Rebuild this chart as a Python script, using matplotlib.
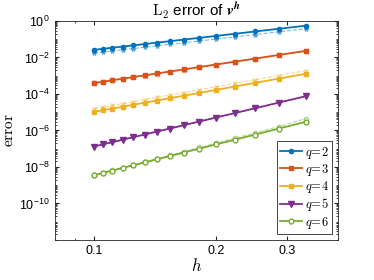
import matplotlib
matplotlib.use("Agg")
import matplotlib.pyplot as plt
from matplotlib.ticker import LogLocator, FixedLocator, NullFormatter

plt.rcParams["font.family"] = ["Liberation Sans", "DejaVu Sans"]
plt.rcParams["mathtext.fontset"] = "cm"

# mesh sizes h = 1/N, N = 10, 9.5, ..., 3
h = [0.1, 0.10526, 0.11111, 0.11765, 0.125, 0.13333, 0.14286, 0.15385,
     0.16667, 0.18182, 0.2, 0.22222, 0.25, 0.28571, 0.33333]

# solid lines
err_q2 = [2.63e-2, 2.99e-2, 3.43e-2, 3.97e-2, 4.63e-2, 5.45e-2, 6.49e-2, 7.82e-2,
          9.58e-2, 1.19e-1, 1.52e-1, 1.98e-1, 2.67e-1, 3.74e-1, 5.53e-1]
err_q3 = [3.98e-4, 4.73e-4, 5.69e-4, 6.89e-4, 8.45e-4, 1.05e-3, 1.33e-3, 1.70e-3,
          2.23e-3, 2.99e-3, 4.13e-3, 5.89e-3, 8.77e-3, 1.38e-2, 2.32e-2]
err_q4 = [1.05e-5, 1.29e-5, 1.60e-5, 2.01e-5, 2.56e-5, 3.31e-5, 4.36e-5, 5.87e-5,
          8.07e-5, 1.14e-4, 1.67e-4, 2.55e-4, 4.09e-4, 6.98e-4, 1.29e-3]
err_q5 = [1.32e-7, 1.73e-7, 2.30e-7, 3.11e-7, 4.28e-7, 6.01e-7, 8.67e-7, 1.28e-6,
          1.95e-6, 3.10e-6, 5.12e-6, 8.93e-6, 1.66e-5, 3.37e-5, 7.6e-5]
err_q6 = [3.55e-9, 4.73e-9, 6.40e-9, 8.81e-9, 1.24e-8, 1.77e-8, 2.61e-8, 3.96e-8,
          6.19e-8, 1.01e-7, 1.72e-7, 3.10e-7, 6.0e-7, 1.27e-6, 3.0e-6]

# dashed lines
ref_q2 = [1.74e-2, 1.98e-2, 2.28e-2, 2.64e-2, 3.08e-2, 3.63e-2, 4.33e-2, 5.24e-2,
          6.43e-2, 8.03e-2, 1.025e-1, 1.34e-1, 1.815e-1, 2.55e-1, 3.79e-1]
ref_q3 = [3.88e-4, 4.60e-4, 5.53e-4, 6.70e-4, 8.22e-4, 1.02e-3, 1.29e-3, 1.65e-3,
          2.17e-3, 2.91e-3, 4.02e-3, 5.73e-3, 8.53e-3, 1.34e-2, 2.26e-2]
ref_q4 = [1.55e-5, 1.91e-5, 2.37e-5, 2.97e-5, 3.79e-5, 4.90e-5, 6.45e-5, 8.69e-5,
          1.19e-4, 1.69e-4, 2.47e-4, 3.77e-4, 6.05e-4, 1.03e-3, 1.91e-3]
ref_q5 = [1.30e-7, 1.70e-7, 2.26e-7, 3.06e-7, 4.21e-7, 5.92e-7, 8.55e-7, 1.26e-6,
          1.92e-6, 3.06e-6, 5.05e-6, 8.80e-6, 1.64e-5, 3.33e-5, 7.5e-5]
ref_q6 = [3.6e-9, 4.8e-9, 6.6e-9, 9.2e-9, 1.31e-8, 1.9e-8, 2.85e-8, 4.4e-8,
          7.0e-8, 1.17e-7, 2.03e-7, 3.75e-7, 7.5e-7, 1.65e-6, 4.5e-6]

labels = [r"$q\!=\!2$", r"$q\!=\!3$", r"$q\!=\!4$", r"$q\!=\!5$", r"$q\!=\!6$"]

COLORS = ["#0072BD", "#D95319", "#EDB120", "#7E2F8E", "#77AC30"]
solid_markers = [dict(marker="o", ms=3.0, mfc=None),
                 dict(marker="s", ms=3.2, mfc=None),
                 dict(marker="s", ms=2.3, mfc=None),
                 dict(marker="v", ms=4.5, mfc=None),
                 dict(marker="o", ms=3.5, mfc="white")]
dash_markers = ["*", "s", "x", "v", "o"]

fig = plt.figure(figsize=(3.74, 2.80), dpi=100)
ax = fig.add_axes([0.146, 0.143, 0.758, 0.782])

solid = [err_q2, err_q3, err_q4, err_q5, err_q6]
dashed = [ref_q2, ref_q3, ref_q4, ref_q5, ref_q6]

for i in range(5):
    ax.plot(h, dashed[i], linestyle="--", color=COLORS[i], alpha=0.5, lw=0.8,
            marker=dash_markers[i], ms=3.2,
            mfc="none" if dash_markers[i] in "so" else COLORS[i])
for i in range(5):
    m = solid_markers[i]
    ax.plot(h, solid[i], "-", color=COLORS[i], lw=1.3, marker=m["marker"],
            ms=m["ms"], mfc=m["mfc"] if m["mfc"] else COLORS[i],
            mec=COLORS[i], mew=1.0, label=labels[i])

ax.set_xscale("log")
ax.set_yscale("log")
ax.set_xlim(0.08, 0.4)
ax.set_ylim(1e-12, 1)

ax.xaxis.set_major_locator(FixedLocator([0.1, 0.2, 0.3]))
ax.set_xticklabels(["0.1", "0.2", "0.3"])
ax.xaxis.set_minor_locator(FixedLocator([0.08, 0.09, 0.4]))
ax.xaxis.set_minor_formatter(NullFormatter())

ax.yaxis.set_major_locator(FixedLocator([1e-10, 1e-8, 1e-6, 1e-4, 1e-2, 1]))
ax.yaxis.set_minor_locator(LogLocator(base=10, subs=range(1, 10), numticks=30))
ax.yaxis.set_minor_formatter(NullFormatter())

ax.tick_params(which="both", direction="in", top=True, right=True,
               labelsize=9, color="#262626")
ax.tick_params(which="major", length=3)
ax.tick_params(which="minor", length=1.5)
for s in ax.spines.values():
    s.set_linewidth(0.6)
    s.set_color("#262626")

ax.set_title(r"$\mathrm{L}_2$ error of $\boldsymbol{v}^{\boldsymbol{h}}$",
             fontsize=11, pad=3)
ax.set_xlabel("$h$", fontsize=12, labelpad=0)
ax.set_ylabel(r"$\mathrm{error}$", fontsize=11, labelpad=2)

leg = ax.legend(loc="lower right", fontsize=9, handlelength=1.8,
                borderpad=0.25, labelspacing=0.1, handletextpad=0.2,
                fancybox=False, framealpha=1, borderaxespad=0.5)
leg.get_frame().set_edgecolor("#262626")
leg.get_frame().set_linewidth(0.6)

fig.savefig("out.png", dpi=100)
